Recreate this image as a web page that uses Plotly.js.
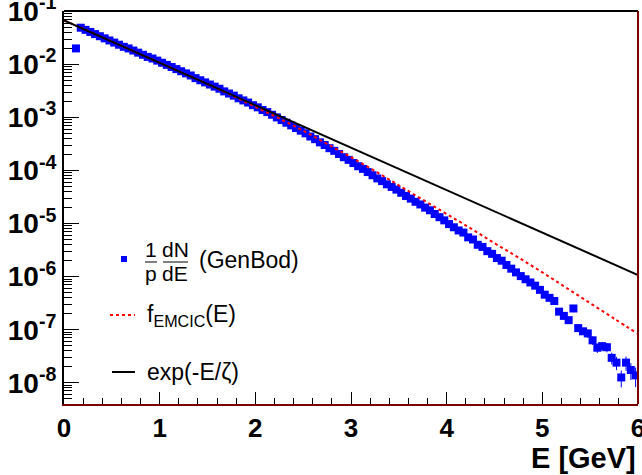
<!DOCTYPE html>
<html>
<head>
<meta charset="utf-8">
<script src="https://cdn.plot.ly/plotly-3.0.1.min.js"></script>
<style>html,body{margin:0;padding:0;background:#fff;}#chart{width:642px;height:475px;}</style>
</head>
<body>
<div id="chart"></div>
<script>
// Bin centres of the GenBod histogram (GeV)
const E_GEV = [
0.125,0.175,0.225,0.275,0.325,0.375,0.425,0.475,0.525,0.575,
0.625,0.675,0.725,0.775,0.825,0.875,0.925,0.975,1.025,1.075,
1.125,1.175,1.225,1.275,1.325,1.375,1.425,1.475,1.525,1.575,
1.625,1.675,1.725,1.775,1.825,1.875,1.925,1.975,2.025,2.075,
2.125,2.175,2.225,2.275,2.325,2.375,2.425,2.475,2.525,2.575,
2.625,2.675,2.725,2.775,2.825,2.875,2.925,2.975,3.025,3.075,
3.125,3.175,3.225,3.275,3.325,3.375,3.425,3.475,3.525,3.575,
3.625,3.675,3.725,3.775,3.825,3.875,3.925,3.975,4.025,4.075,
4.125,4.175,4.225,4.275,4.325,4.375,4.425,4.475,4.525,4.575,
4.625,4.675,4.725,4.775,4.825,4.875,4.925,4.975,5.025,5.075,
5.125,5.175,5.225,5.275,5.325,5.375,5.425,5.475,5.525,5.575,
5.625,5.675,5.725,5.775,5.825,5.875,5.925,5.975];

// log10 of (1/p) dN/dE (GenBod)
const LOG10_GENBOD = [
-1.70,-1.31,-1.35,-1.39,-1.43,-1.47,-1.51,-1.55,-1.59,-1.63,
-1.67,-1.70,-1.74,-1.78,-1.82,-1.86,-1.89,-1.93,-1.97,-2.01,
-2.05,-2.09,-2.13,-2.17,-2.21,-2.26,-2.30,-2.34,-2.38,-2.42,
-2.46,-2.51,-2.55,-2.59,-2.64,-2.68,-2.72,-2.77,-2.81,-2.86,
-2.90,-2.95,-3.00,-3.05,-3.10,-3.15,-3.20,-3.25,-3.30,-3.36,
-3.41,-3.47,-3.52,-3.58,-3.63,-3.69,-3.75,-3.80,-3.86,-3.92,
-3.97,-4.03,-4.09,-4.15,-4.20,-4.26,-4.31,-4.36,-4.42,-4.48,
-4.53,-4.59,-4.64,-4.70,-4.75,-4.82,-4.88,-4.94,-5.01,-5.07,
-5.13,-5.17,-5.26,-5.30,-5.40,-5.44,-5.52,-5.57,-5.65,-5.70,
-5.78,-5.85,-5.92,-5.99,-6.05,-6.11,-6.17,-6.25,-6.34,-6.40,
-6.46,-6.66,-6.74,-6.82,-6.60,-6.97,-7.03,-7.07,-7.20,-7.34,
-7.31,-7.33,-7.53,-7.62,-7.90,-7.62,-7.76,-7.86];

// relative statistical errors of the last bins (earlier bins: negligible)
const REL_ERR_TAIL = [0.15,0.15,0.15,0.18,0.18,0.20,0.20,0.20,0.25,0.28,0.35,0.30,0.35,0.40];

// f_EMCIC(E) curve
const E_EMCIC = [0,0.25,0.5,0.75,1.0,1.25,1.5,1.75,2.0,2.25,2.5,2.75,3.0,3.25,3.5,3.75,4.0,4.25,4.5,4.75,5.0,5.25,5.5,5.75,6.0];
const LOG10_EMCIC = [-1.17,-1.37,-1.57,-1.77,-1.97,-2.17,-2.37,-2.58,-2.80,-3.02,-3.25,-3.50,-3.75,-4.01,-4.28,-4.55,-4.82,-5.09,-5.37,-5.64,-5.92,-6.21,-6.50,-6.79,-7.08];

// exp(-E/zeta) line
const E_EXP = [0, 6];
const LOG10_EXP = [-1.17, -5.97];

const Y_TICK_EXP = [-8,-7,-6,-5,-4,-3,-2,-1];

const pow10 = v => Math.pow(10, v);
const genbod = LOG10_GENBOD.map(pow10);
const relErr = E_GEV.map((e, i) => {
  const j = i - (E_GEV.length - REL_ERR_TAIL.length);
  return j >= 0 ? REL_ERR_TAIL[j] : 0;
});

const minorY = [];
for (let d = -9; d <= -2; d++) {
  for (let m = 2; m <= 9; m++) {
    const v = m * Math.pow(10, d);
    if (v > Math.pow(10, -8.4) && v < 0.1) minorY.push(v);
  }
}

const FONT = 'Liberation Sans, Arial, sans-serif';

const traces = [
  {
    x: E_GEV, y: genbod, type: 'scatter', mode: 'markers', name: '1/p dN/dE (GenBod)',
    marker: {symbol: 'square', size: 8, color: '#0000ff'},
    error_y: {type: 'data', symmetric: false,
      array: genbod.map((v, i) => v * relErr[i]),
      arrayminus: genbod.map((v, i) => v * relErr[i]),
      color: '#0000ff', thickness: 1, width: 0},
    showlegend: false
  },
  {
    x: E_EMCIC, y: LOG10_EMCIC.map(pow10), type: 'scatter', mode: 'lines', name: 'f_EMCIC(E)',
    line: {color: '#ff0000', width: 2, dash: '3px,3px', shape: 'spline'}, showlegend: false
  },
  {
    x: E_EXP, y: LOG10_EXP.map(pow10), type: 'scatter', mode: 'lines', name: 'exp(-E/ζ)',
    line: {color: '#000000', width: 2}, showlegend: false
  }
];

const yTickFont = {family: FONT, size: 28, color: '#000', weight: 'bold'};
const xTickFont = {family: FONT, size: 26, color: '#000', weight: 'bold'};
const legFont = {family: FONT, size: 23, color: '#000'};
const fracFont = {family: FONT, size: 21, color: '#000'};

const ann = (text, x, y, font, xanchor) => ({text, x, y, xref: 'paper', yref: 'paper',
  showarrow: false, font, xanchor: xanchor || 'center', yanchor: 'middle'});

const layout = {
  width: 642, height: 475,
  margin: {l: 64, r: 4, t: 11, b: 71},
  paper_bgcolor: '#fff', plot_bgcolor: '#fff',
  xaxis: {
    range: [0, 6], tick0: 0, dtick: 1, ticks: 'inside', ticklen: 12, tickwidth: 1, tickcolor: '#000',
    tickfont: xTickFont, ticklabeloverflow: 'allow', showgrid: false, zeroline: false,
    showline: true, linecolor: '#7a0000', linewidth: 2,
    minor: {ticks: 'inside', ticklen: 6, tick0: 0, dtick: 0.2, tickcolor: '#000', tickwidth: 1, showgrid: false}
  },
  yaxis: {
    type: 'log', range: [-8.4, -0.995],
    tickmode: 'array', tickvals: Y_TICK_EXP.map(pow10),
    ticktext: Y_TICK_EXP.map(e => '10<sup>' + e + '</sup>'),
    ticks: 'inside', ticklen: 15, tickwidth: 1, tickcolor: '#000',
    tickfont: yTickFont, ticklabeloverflow: 'allow', showgrid: false, zeroline: false,
    showline: true, linecolor: '#000', linewidth: 2,
    minor: {tickmode: 'array', tickvals: minorY, ticks: 'inside', ticklen: 8, tickcolor: '#000', tickwidth: 1, showgrid: false}
  },
  shapes: [
    {type: 'line', xref: 'paper', yref: 'paper', x0: 0, x1: 1, y0: 1, y1: 1, line: {color: '#000', width: 2}},
    {type: 'line', xref: 'paper', yref: 'paper', x0: 1, x1: 1, y0: 0, y1: 1, line: {color: '#7a0000', width: 2}},
    // legend symbols
    {type: 'rect', xref: 'paper', yref: 'paper', x0: 0.0993, x1: 0.1098, y0: 0.3613, y1: 0.3766, fillcolor: '#0000ff', line: {width: 0}},
    {type: 'line', xref: 'paper', yref: 'paper', x0: 0.1411, x1: 0.1620, y0: 0.3613, y1: 0.3613, line: {color: '#000', width: 1}},
    {type: 'line', xref: 'paper', yref: 'paper', x0: 0.1725, x1: 0.2160, y0: 0.3613, y1: 0.3613, line: {color: '#000', width: 1}},
    {type: 'line', xref: 'paper', yref: 'paper', x0: 0.0801, x1: 0.1237, y0: 0.2265, y1: 0.2265, line: {color: '#ff0000', width: 2, dash: '3px,3px'}},
    {type: 'line', xref: 'paper', yref: 'paper', x0: 0.0836, x1: 0.1237, y0: 0.0814, y1: 0.0814, line: {color: '#000', width: 2}}
  ],
  annotations: [
    ann('1', 0.1516, 0.3930, fracFont),
    ann('p', 0.1516, 0.3320, fracFont),
    ann('dN', 0.1942, 0.3930, fracFont),
    ann('dE', 0.1942, 0.3320, fracFont),
    ann('(GenBod)', 0.2317, 0.3664, legFont, 'left'),
    ann('f<sub>EMCIC</sub>(E)', 0.1411, 0.2240, legFont, 'left'),
    ann('exp(-E/ζ)', 0.1411, 0.0814, legFont, 'left'),
    {text: 'E [GeV]', x: 1.0, y: -0.1374, xref: 'paper', yref: 'paper', showarrow: false,
     xanchor: 'right', yanchor: 'middle', font: {family: FONT, size: 29, color: '#000', weight: 'bold'}}
  ]
};

Plotly.newPlot('chart', traces, layout, {displayModeBar: false, staticPlot: true});
</script>
</body>
</html>
